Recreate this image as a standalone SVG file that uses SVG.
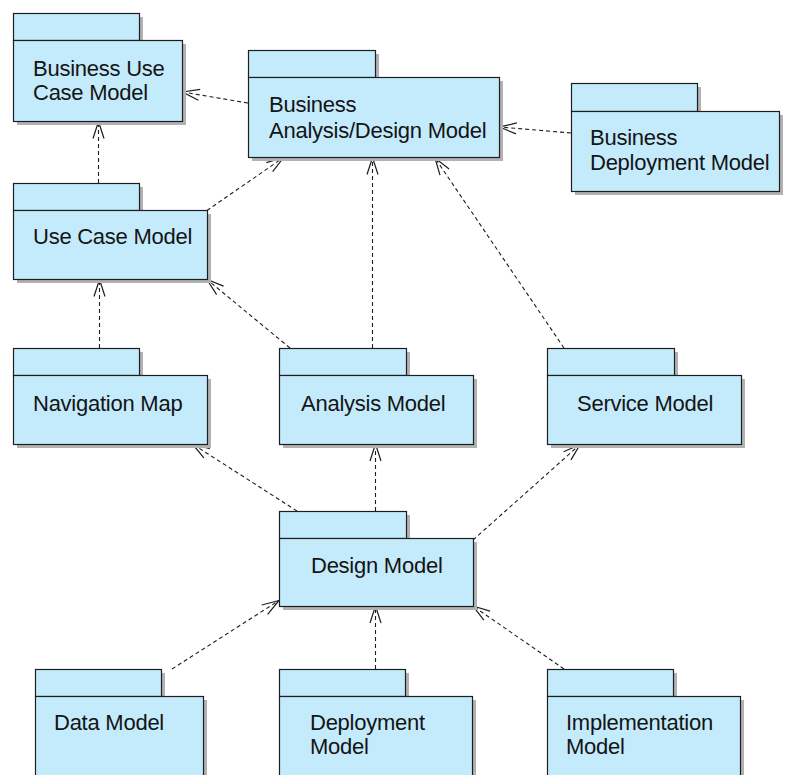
<svg xmlns="http://www.w3.org/2000/svg" width="787" height="775" viewBox="0 0 787 775">
<style>
.sh{fill:#b2b2b2}
.pk{fill:#c4ebfc;stroke:#1e1e1e;stroke-width:1.2}
.t{font-family:"Liberation Sans",Arial,sans-serif;font-size:22px;fill:#141414;letter-spacing:-0.25px}
.c{fill:none;stroke:#1e1e1e;stroke-width:1.1;stroke-dasharray:4 3}
</style>
<defs>
<marker id="ah" markerUnits="userSpaceOnUse" markerWidth="40" markerHeight="40" refX="0" refY="0" viewBox="-20 -20 40 40" orient="auto" overflow="visible">
<path d="M-17,-5.5 L0,0 L-17,5.5" fill="none" stroke="#1e1e1e" stroke-width="1.2"/>
</marker>
</defs>
<rect width="787" height="775" fill="#ffffff"/>
<g id="connectors">
<line class="c" x1="248" y1="103" x2="182.5" y2="92" marker-end="url(#ah)"/>
<line class="c" x1="98.5" y1="183" x2="98.5" y2="121.5" marker-end="url(#ah)"/>
<line class="c" x1="207" y1="210.5" x2="283.5" y2="157.5" marker-end="url(#ah)"/>
<line class="c" x1="372.5" y1="348" x2="372.5" y2="157.5" marker-end="url(#ah)"/>
<line class="c" x1="564" y1="348" x2="435" y2="158" marker-end="url(#ah)"/>
<line class="c" x1="571" y1="133" x2="499.5" y2="127" marker-end="url(#ah)"/>
<line class="c" x1="290" y1="348" x2="207" y2="279.5" marker-end="url(#ah)"/>
<line class="c" x1="99.5" y1="348" x2="99.5" y2="279.5" marker-end="url(#ah)"/>
<line class="c" x1="297" y1="511" x2="192.5" y2="444" marker-end="url(#ah)"/>
<line class="c" x1="375.5" y1="511" x2="375.5" y2="444" marker-end="url(#ah)"/>
<line class="c" x1="473" y1="540" x2="580" y2="444.5" marker-end="url(#ah)"/>
<line class="c" x1="172" y1="669" x2="279" y2="600.5" marker-end="url(#ah)"/>
<line class="c" x1="375.5" y1="669" x2="375.5" y2="606" marker-end="url(#ah)"/>
<line class="c" x1="564" y1="669" x2="473" y2="606" marker-end="url(#ah)"/>
</g>
<g id="business-use-case-model">
<rect class="sh" x="17" y="17" width="126" height="27"/>
<rect class="sh" x="17" y="44" width="169" height="81"/>
<rect class="pk" x="13.5" y="13.5" width="126" height="27"/>
<rect class="pk" x="13.5" y="40.5" width="169" height="81"/>
<text class="t" x="33" y="76">Business Use</text>
<text class="t" x="33" y="100">Case Model</text>
</g>
<g id="business-analysis-design-model">
<rect class="sh" x="252" y="54" width="127" height="27"/>
<rect class="sh" x="252" y="81" width="251" height="80"/>
<rect class="pk" x="248.5" y="50.5" width="127" height="27"/>
<rect class="pk" x="248.5" y="77.5" width="251" height="80"/>
<text class="t" x="269" y="112">Business</text>
<text class="t" x="269" y="138">Analysis/Design Model</text>
</g>
<g id="business-deployment-model">
<rect class="sh" x="575" y="87" width="126" height="28"/>
<rect class="sh" x="575" y="115" width="208" height="80"/>
<rect class="pk" x="571.5" y="83.5" width="126" height="28"/>
<rect class="pk" x="571.5" y="111.5" width="208" height="80"/>
<text class="t" x="590" y="145">Business</text>
<text class="t" x="590" y="170">Deployment Model</text>
</g>
<g id="use-case-model">
<rect class="sh" x="17" y="187" width="126" height="27"/>
<rect class="sh" x="17" y="214" width="194" height="69"/>
<rect class="pk" x="13.5" y="183.5" width="126" height="27"/>
<rect class="pk" x="13.5" y="210.5" width="194" height="69"/>
<text class="t" x="33" y="244">Use Case Model</text>
</g>
<g id="navigation-map">
<rect class="sh" x="17" y="352" width="126" height="27"/>
<rect class="sh" x="17" y="379" width="194" height="69"/>
<rect class="pk" x="13.5" y="348.5" width="126" height="27"/>
<rect class="pk" x="13.5" y="375.5" width="194" height="69"/>
<text class="t" x="33" y="411">Navigation Map</text>
</g>
<g id="analysis-model">
<rect class="sh" x="283" y="352" width="127" height="27"/>
<rect class="sh" x="283" y="379" width="194" height="69"/>
<rect class="pk" x="279.5" y="348.5" width="127" height="27"/>
<rect class="pk" x="279.5" y="375.5" width="194" height="69"/>
<text class="t" x="301" y="411">Analysis Model</text>
</g>
<g id="service-model">
<rect class="sh" x="551" y="352" width="127" height="27"/>
<rect class="sh" x="551" y="379" width="194" height="69"/>
<rect class="pk" x="547.5" y="348.5" width="127" height="27"/>
<rect class="pk" x="547.5" y="375.5" width="194" height="69"/>
<text class="t" x="577" y="411">Service Model</text>
</g>
<g id="design-model">
<rect class="sh" x="283" y="515" width="127" height="27"/>
<rect class="sh" x="283" y="542" width="194" height="68"/>
<rect class="pk" x="279.5" y="511.5" width="127" height="27"/>
<rect class="pk" x="279.5" y="538.5" width="194" height="68"/>
<text class="t" x="311" y="573">Design Model</text>
</g>
<g id="data-model">
<rect class="sh" x="39" y="673" width="126" height="27"/>
<rect class="sh" x="39" y="700" width="168" height="100"/>
<rect class="pk" x="35.5" y="669.5" width="126" height="27"/>
<rect class="pk" x="35.5" y="696.5" width="168" height="100"/>
<text class="t" x="54" y="730">Data Model</text>
</g>
<g id="deployment-model">
<rect class="sh" x="283" y="673" width="126" height="27"/>
<rect class="sh" x="283" y="700" width="193" height="100"/>
<rect class="pk" x="279.5" y="669.5" width="126" height="27"/>
<rect class="pk" x="279.5" y="696.5" width="193" height="100"/>
<text class="t" x="310" y="730">Deployment</text>
<text class="t" x="310" y="754">Model</text>
</g>
<g id="implementation-model">
<rect class="sh" x="551" y="673" width="126" height="27"/>
<rect class="sh" x="551" y="700" width="193" height="100"/>
<rect class="pk" x="547.5" y="669.5" width="126" height="27"/>
<rect class="pk" x="547.5" y="696.5" width="193" height="100"/>
<text class="t" x="566" y="730">Implementation</text>
<text class="t" x="566" y="754">Model</text>
</g>
</svg>
